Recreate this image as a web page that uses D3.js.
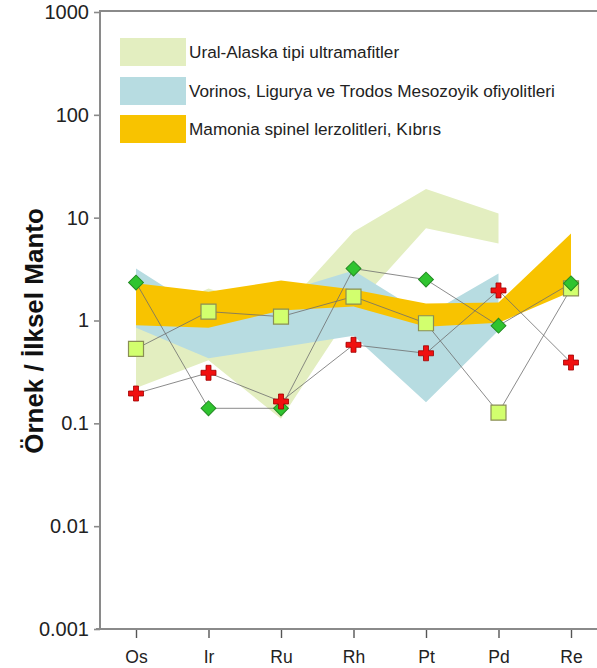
<!DOCTYPE html>
<html>
<head>
<meta charset="utf-8">
<script src="https://cdn.jsdelivr.net/npm/d3@7"></script>
<style>
  html, body { margin: 0; padding: 0; background: #fff; }
  svg { display: block; font-family: "Liberation Sans", Arial, sans-serif; }
</style>
</head>
<body>
<svg id="chart" width="597" height="668"></svg>
<script>
// Platinum-group elements (plus Re), normalised to primitive mantle
const elements = ["Os", "Ir", "Ru", "Rh", "Pt", "Pd", "Re"];
const yTicks = [0.001, 0.01, 0.1, 1, 10, 100, 1000];
const yTickLabels = ["0.001", "0.01", "0.1", "1", "10", "100", "1000"];

// Reference fields (upper / lower envelope per element)
const uralTop    = [1.0, 2.05, 1.22, 7.3, 19, 11];
const uralBottom = [0.22, 0.41, 0.111, 1.3, 7.9, 5.6];
const vorinosTop    = [3.2, 1.14, 1.87, 3.06, 1.12, 2.86];
const vorinosBottom = [0.85, 0.43, 0.55, 0.71, 0.16, 0.80];
const mamoniaTop    = [2.3, 1.9, 2.45, 2.0, 1.46, 1.5, 7.0];
const mamoniaBottom = [0.9, 0.85, 1.25, 1.37, 0.87, 0.95, 1.9];

// Sample series
const sampleSquare  = [0.53, 1.22, 1.09, 1.71, 0.94, 0.127, 2.05];
const sampleDiamond = [2.34, 0.14, 0.14, 3.2, 2.5, 0.89, 2.3];
const sampleCross   = [0.195, 0.31, 0.163, 0.58, 0.48, 1.96, 0.39];

const legendLabels = [
  "Ural-Alaska tipi ultramafitler",
  "Vorinos, Ligurya ve Trodos Mesozoyik ofiyolitleri",
  "Mamonia spinel lerzolitleri, Kıbrıs"
];
const fieldColors = ["#e3eec0", "#b7dce1", "#f8c300"];

const svg = d3.select("#chart");
const axisX = 100, axisBottomY = 629, axisTopY = 12, rightX = 597;

const x = d3.scalePoint().domain(elements).range([136, 571]);
const y = d3.scaleLog().domain([0.001, 1000]).range([axisBottomY, axisTopY]);

// Envelope fields
function band(top, bottom) {
  return d3.area()
    .x((d, i) => x(elements[i]))
    .y0((d, i) => y(bottom[i]))
    .y1(d => y(d))(top);
}
const fields = [[uralTop, uralBottom], [vorinosTop, vorinosBottom], [mamoniaTop, mamoniaBottom]];
svg.append("g").selectAll("path")
  .data(fields)
  .join("path")
  .attr("d", d => band(d[0], d[1]))
  .attr("fill", (d, i) => fieldColors[i]);

// Sample lines
const line = d3.line().x((d, i) => x(elements[i])).y(d => y(d));
const seriesList = [sampleSquare, sampleDiamond, sampleCross];
svg.append("g").selectAll("path")
  .data(seriesList)
  .join("path")
  .attr("d", d => line(d))
  .attr("fill", "none")
  .attr("stroke", "#6e6e6e")
  .attr("stroke-opacity", 0.8)
  .attr("stroke-width", 1);

// Markers
const sq = d3.symbol().type(d3.symbolSquare).size(15 * 15)();
const dm = d3.symbol().type(d3.symbolSquare).size(10.5 * 10.5)();
const cr = d3.symbol().type(d3.symbolCross).size(125)();

svg.append("g").selectAll("path")
  .data(sampleSquare)
  .join("path")
  .attr("d", sq)
  .attr("transform", (d, i) => `translate(${x(elements[i])},${y(d)})`)
  .attr("fill", "#d2ff6e")
  .attr("stroke", "#8a8f55")
  .attr("stroke-width", 1.2);

svg.append("g").selectAll("path")
  .data(sampleDiamond)
  .join("path")
  .attr("d", dm)
  .attr("transform", (d, i) => `translate(${x(elements[i])},${y(d)}) rotate(45)`)
  .attr("fill", "#2fc42f")
  .attr("stroke", "#238a23")
  .attr("stroke-width", 1);

svg.append("g").selectAll("path")
  .data(sampleCross)
  .join("path")
  .attr("d", cr)
  .attr("transform", (d, i) => `translate(${x(elements[i])},${y(d)})`)
  .attr("fill", "#f01010")
  .attr("stroke", "#a00000")
  .attr("stroke-width", 0.8);

// Axes
const axisColor = "#8a8a8a";
const yAxis = svg.append("g")
  .attr("transform", `translate(${axisX},0)`)
  .call(d3.axisLeft(y).tickValues(yTicks).tickFormat((d, i) => yTickLabels[i])
    .tickSize(6).tickPadding(5).tickSizeOuter(0));
yAxis.select(".domain").remove();
yAxis.selectAll(".tick line").attr("stroke", axisColor).attr("stroke-width", 1.6);
yAxis.selectAll(".tick text").attr("fill", "#222").attr("font-size", 20)
  .attr("font-family", "'Liberation Sans', Arial, sans-serif");

const xAxis = svg.append("g")
  .attr("transform", `translate(0,${axisBottomY})`)
  .call(d3.axisBottom(x).tickSize(9).tickPadding(13).tickSizeOuter(0));
xAxis.select(".domain").remove();
xAxis.selectAll(".tick line").attr("stroke", "#555").attr("stroke-width", 1.4);
xAxis.selectAll(".tick text").attr("fill", "#222").attr("font-size", 17.5)
  .attr("font-family", "'Liberation Sans', Arial, sans-serif");

// Frame lines: left, bottom, top
svg.append("line").attr("x1", axisX).attr("x2", axisX).attr("y1", axisTopY - 1).attr("y2", axisBottomY + 1)
  .attr("stroke", axisColor).attr("stroke-width", 2);
svg.append("line").attr("x1", axisX - 4).attr("x2", rightX).attr("y1", axisBottomY).attr("y2", axisBottomY)
  .attr("stroke", axisColor).attr("stroke-width", 2);
svg.append("line").attr("x1", axisX - 1).attr("x2", rightX).attr("y1", axisTopY - 1).attr("y2", axisTopY - 1)
  .attr("stroke", axisColor).attr("stroke-width", 2);

// Axis title
svg.append("text")
  .attr("transform", "translate(43,331) rotate(-90)")
  .attr("text-anchor", "middle")
  .attr("font-size", 26)
  .attr("font-weight", "bold")
  .attr("fill", "#111")
  .text("Örnek / İlksel Manto");

// Legend
const legend = svg.append("g");
const rowY = [38, 77, 115];
legend.selectAll("rect")
  .data(legendLabels)
  .join("rect")
  .attr("x", 120).attr("y", (d, i) => rowY[i])
  .attr("width", 66).attr("height", 28)
  .attr("fill", (d, i) => fieldColors[i]);
legend.selectAll("text")
  .data(legendLabels)
  .join("text")
  .attr("x", 189).attr("y", (d, i) => rowY[i] + 14)
  .attr("dy", "0.35em")
  .attr("font-size", 17.2)
  .attr("fill", "#222")
  .text(d => d);
</script>
</body>
</html>
